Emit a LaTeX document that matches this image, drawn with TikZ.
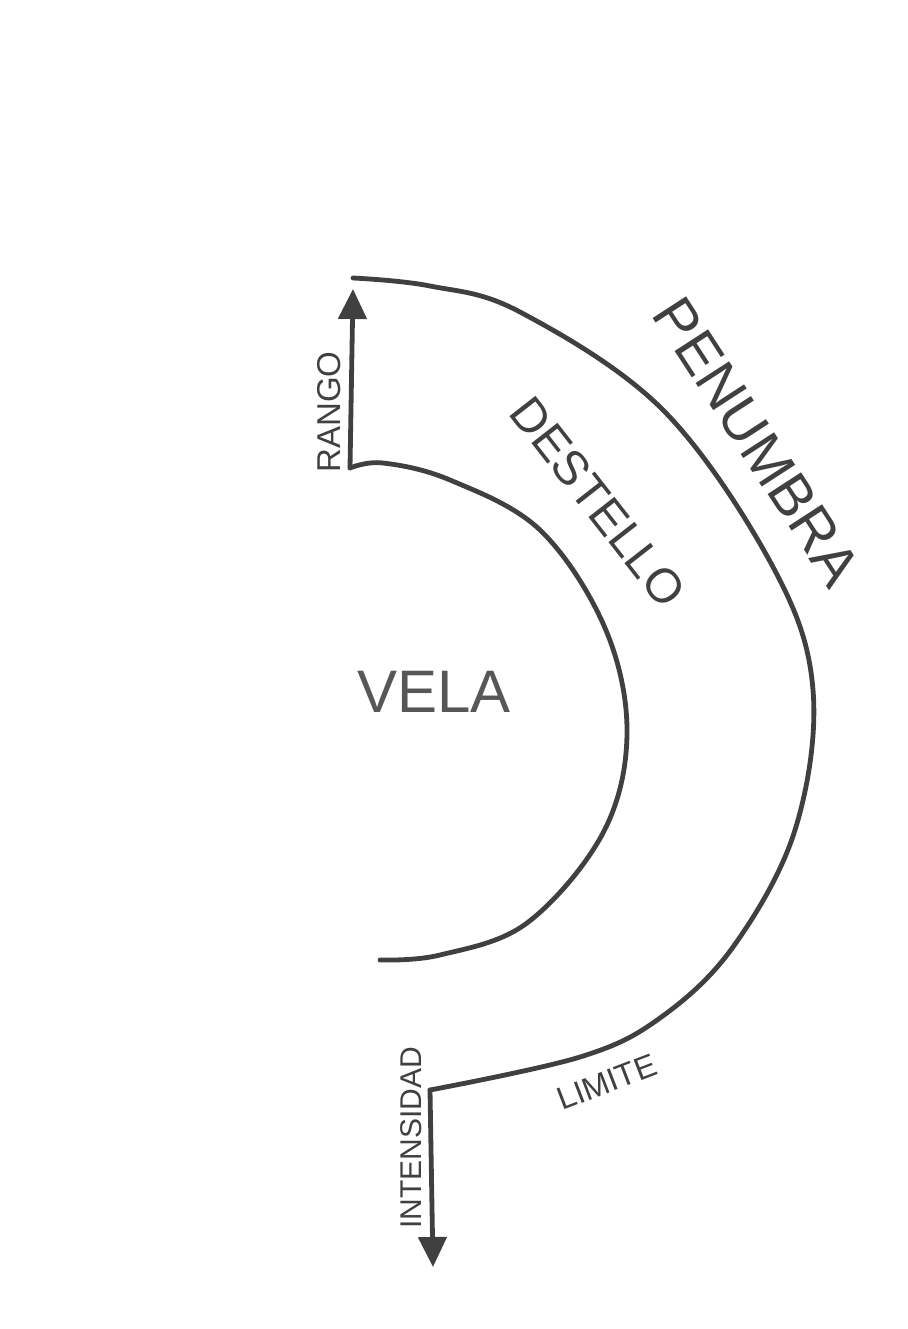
\documentclass[tikz,border=0pt]{standalone}
\usepackage{fontspec}
\setmainfont{Liberation Sans}
\usetikzlibrary{arrows.meta}
\definecolor{ink}{HTML}{404040}
\definecolor{softink}{HTML}{575757}

\begin{document}
\begin{tikzpicture}[
    x=1pt, y=-1pt,
    >={Triangle[length=30pt,width=28pt]},
    curve/.style    ={draw=ink, line width=4.8pt, line cap=round, line join=round},
    axisarrow/.style={->, draw=ink, line width=4.8pt, line cap=round},
    zone/.style     ={text=ink, inner sep=0pt, font=\fontsize{#1}{#1}\selectfont},
    axislabel/.style={text=ink, inner sep=0pt, rotate=90, font=\fontsize{#1}{#1}\selectfont},
]

\useasboundingbox (0,0) rectangle (907,1329);

%==================== ANCHOR POINTS ====================

\coordinate (penstart) at (353,278);
\coordinate (rangobase) at (350,468);
\coordinate (rangotip)  at (353,289);
\coordinate (limend)    at (430,1090);
\coordinate (inttip)    at (433,1267);
\coordinate (velaend)   at (380,960);

%==================== CURVES ====================

% outer edge (penumbra / limite)
\draw[curve] plot[smooth, tension=0.6] coordinates {
  (penstart) (430,286) (520,312) (663,410) (773,567) (813,690)
  (795,830) (733,947) (660,1018) (580,1057) (limend)};

% inner edge (destello)
\draw[curve] plot[smooth, tension=0.6] coordinates {
  (rangobase) (383,463) (450,480) (540,530) (605,628) (627,733)
  (603,833) (527,923) (440,955) (velaend)};

%==================== AXES ====================

\draw[axisarrow] (rangobase) -- (rangotip);
\draw[axisarrow] (limend) -- (inttip);

%==================== LABELS ====================

\node[zone=58, rotate=-57] (penumbra) at (757,442) {PENUMBRA};
\node[zone=48, rotate=-52] (destello) at (598,502) {DESTELLO};
\node[zone=60, text=softink] (vela) at (434,692) {VELA};
\node[zone=32, rotate=21] (limite) at (607,1082) {LIMITE};

\node[axislabel=33] (rango) at (329,412) {RANGO};
\node[axislabel=30] (intensidad) at (411,1138) {INTENSIDAD};

\end{tikzpicture}
\end{document}
